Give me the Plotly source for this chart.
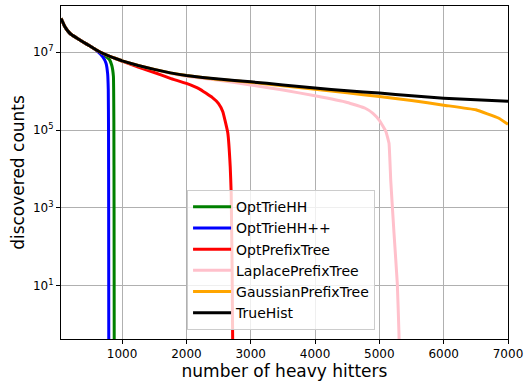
import plotly.graph_objects as go

# ---- data (log10 of counts) ----
true_x = [50, 100, 150, 200, 300, 400, 500, 600, 700, 800, 900, 1000, 1250, 1500, 1750,
          2000, 2500, 3000, 3500, 4000, 4500, 5000, 5500, 6000, 6500, 7000]
true_lg = [7.87, 7.69, 7.56, 7.47, 7.36, 7.26, 7.16, 7.06, 6.97, 6.90, 6.84, 6.78, 6.66, 6.56, 6.47,
           6.40, 6.31, 6.24, 6.16, 6.08, 6.01, 5.95, 5.88, 5.82, 5.78, 5.74]

green_x = [50, 100, 150, 200, 300, 400, 500, 600, 700, 800, 840, 865, 872, 875, 878]
green_lg = [7.87, 7.69, 7.56, 7.47, 7.36, 7.26, 7.16, 7.06, 6.95, 6.82, 6.66, 6.38, 5.2, 3.0, -1.0]

blue_x = [50, 100, 150, 200, 300, 400, 500, 600, 700, 750, 775, 785, 789, 791, 793]
blue_lg = [7.87, 7.69, 7.56, 7.47, 7.36, 7.26, 7.16, 7.05, 6.88, 6.72, 6.45, 6.05, 5.0, 3.0, -1.0]

red_x = [50, 100, 150, 200, 300, 400, 500, 600, 700, 800, 900, 1000, 1250, 1500, 1750, 2000,
         2200, 2400, 2500, 2566, 2643, 2681, 2696, 2710, 2722]
red_lg = [7.87, 7.69, 7.56, 7.47, 7.36, 7.26, 7.16, 7.06, 6.97, 6.90, 6.84, 6.77, 6.62, 6.48, 6.33, 6.20,
          6.06, 5.84, 5.68, 5.47, 4.93, 4.06, 3.38, 1.5, -1.0]

pink_x = [50, 100, 150, 200, 300, 400, 500, 600, 700, 800, 900, 1000, 1250, 1500, 1750, 2000,
          2500, 3000, 3500, 4000, 4500, 4780, 4900, 5000, 5100, 5150, 5177, 5228, 5279, 5305, 5312]
pink_lg = [7.87, 7.69, 7.56, 7.47, 7.36, 7.26, 7.16, 7.06, 6.97, 6.90, 6.84, 6.78, 6.66, 6.56, 6.46, 6.38,
           6.28, 6.16, 6.03, 5.88, 5.71, 5.56, 5.43, 5.25, 4.97, 4.66, 3.7, 2.34, 1.05, -0.24, -1.0]

orange_x = [50, 100, 150, 200, 300, 400, 500, 600, 700, 800, 900, 1000, 1250, 1500, 1750, 2000,
            2500, 3000, 3500, 4000, 4500, 5000, 5500, 6000, 6500, 6850, 7000]
orange_lg = [7.87, 7.69, 7.56, 7.47, 7.36, 7.26, 7.16, 7.06, 6.97, 6.90, 6.84, 6.78, 6.66, 6.56, 6.47, 6.40,
             6.30, 6.23, 6.14, 6.05, 5.96, 5.86, 5.76, 5.64, 5.52, 5.31, 5.15]

names = ["OptTrieHH", "OptTrieHH++", "OptPrefixTree", "LaplacePrefixTree", "GaussianPrefixTree", "TrueHist"]
colors = ["green", "blue", "red", "pink", "orange", "black"]
series_x = [green_x, blue_x, red_x, pink_x, orange_x, true_x]
series_lg = [green_lg, blue_lg, red_lg, pink_lg, orange_lg, true_lg]

ytick_vals = [1e1, 1e3, 1e5, 1e7]
ytick_text = ["10<sup>1</sup>", "10<sup>3</sup>", "10<sup>5</sup>", "10<sup>7</sup>"]
xtick_vals = [1000, 2000, 3000, 4000, 5000, 6000, 7000]

fig = go.Figure()
for i, (nm, col, xs, lg) in enumerate(zip(names, colors, series_x, series_lg)):
    fig.add_trace(go.Scatter(
        x=xs, y=[10 ** v for v in lg], mode="lines", name=nm,
        line=dict(color=col, width=3, shape="spline", smoothing=0.3),
        legendgroup=f"g{i}",
    ))

axis_common = dict(
    showline=True, linecolor="black", linewidth=1, mirror=True,
    ticks="outside", ticklen=4, tickcolor="black",
    showgrid=True, gridcolor="#b0b0b0", gridwidth=1,
    zeroline=False, automargin=False,
    tickfont=dict(family="DejaVu Sans", size=12, color="black"),
)

fig.update_layout(
    width=525, height=387,
    margin=dict(l=61, r=17, t=6, b=48),
    plot_bgcolor="white", paper_bgcolor="white",
    font=dict(family="DejaVu Sans", color="black"),
    xaxis=dict(range=[50, 7000], tickvals=xtick_vals,
               title=dict(text="number of heavy hitters", font=dict(size=17), standoff=4),
               **axis_common),
    yaxis=dict(type="log", range=[-0.374, 8.19], tickvals=ytick_vals, ticktext=ytick_text,
               title=dict(text="discovered counts", font=dict(size=17), standoff=4),
               **axis_common),
    legend=dict(x=0.282, y=0.447, xanchor="left", yanchor="top",
                bgcolor="rgba(255,255,255,0.8)", bordercolor="#cccccc", borderwidth=1,
                font=dict(size=14, family="DejaVu Sans"), traceorder="grouped",
                tracegroupgap=0, itemwidth=38),
    showlegend=True,
)

fig.write_html("out.html")
